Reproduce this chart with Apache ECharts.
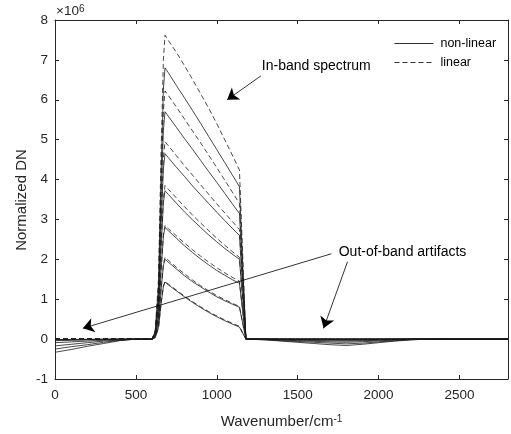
<!DOCTYPE html>
<html>
<head>
<meta charset="utf-8">
<script src="https://cdn.jsdelivr.net/npm/echarts@6/dist/echarts.min.js"></script>
<style>
html,body{margin:0;padding:0;background:#fff;}
#chart{width:511px;height:434px;}
</style>
</head>
<body>
<div id="chart"></div>
<script>
// wavenumber samples (cm-1), split in three parts
var wnLeft = [0, 100, 200, 300, 400, 500];
var wnBand = [600, 620, 640, 655, 670, 680, 700, 750, 800, 850, 900, 950, 1000, 1050, 1100, 1140, 1160, 1180];
var wnRight = [1300, 1400, 1500, 1600, 1700, 1800, 1900, 2000, 2100, 2200, 2300, 2400, 2800];

// in-band spectra, x10^6
var nonLinearBand = [
    [0, 0.2, 1.36, 4.08, 6.26, 6.8, 6.68, 6.36, 6.05, 5.73, 5.41, 5.08, 4.75, 4.42, 4.09, 3.82, 1.91, 0],
    [0, 0.17, 1.14, 3.42, 5.24, 5.7, 5.59, 5.31, 5.03, 4.76, 4.48, 4.20, 3.93, 3.65, 3.37, 3.15, 1.58, 0],
    [0, 0.14, 0.93, 2.79, 4.28, 4.65, 4.55, 4.31, 4.08, 3.84, 3.62, 3.40, 3.18, 2.97, 2.76, 2.6, 1.3, 0],
    [0, 0.11, 0.74, 2.23, 3.42, 3.72, 3.63, 3.41, 3.19, 2.99, 2.80, 2.61, 2.44, 2.27, 2.12, 2.0, 1.0, 0],
    [0, 0.08, 0.56, 1.68, 2.58, 2.8, 2.72, 2.53, 2.34, 2.17, 2.01, 1.86, 1.72, 1.60, 1.48, 1.4, 0.7, 0],
    [0, 0.06, 0.4, 1.2, 1.84, 2.0, 1.93, 1.76, 1.59, 1.44, 1.31, 1.18, 1.06, 0.96, 0.87, 0.8, 0.4, 0],
    [0, 0.04, 0.29, 0.86, 1.32, 1.43, 1.36, 1.21, 1.06, 0.92, 0.79, 0.67, 0.56, 0.46, 0.37, 0.30, 0.15, 0]
];
var linearBand = [
    [0, 0.23, 1.52, 4.57, 7.01, 7.62, 7.49, 7.19, 6.86, 6.51, 6.15, 5.79, 5.40, 4.99, 4.58, 4.24, 2.12, 0],
    [0, 0.19, 1.24, 3.73, 5.72, 6.22, 6.11, 5.82, 5.52, 5.22, 4.92, 4.61, 4.30, 3.98, 3.66, 3.4, 1.7, 0],
    [0, 0.15, 0.99, 2.97, 4.55, 4.95, 4.85, 4.60, 4.35, 4.11, 3.87, 3.63, 3.39, 3.16, 2.93, 2.75, 1.38, 0],
    [0, 0.12, 0.77, 2.31, 3.54, 3.85, 3.76, 3.54, 3.32, 3.11, 2.91, 2.72, 2.53, 2.35, 2.18, 2.05, 1.03, 0],
    [0, 0.09, 0.57, 1.71, 2.62, 2.85, 2.77, 2.59, 2.41, 2.24, 2.08, 1.93, 1.79, 1.66, 1.54, 1.45, 0.73, 0],
    [0, 0.06, 0.41, 1.23, 1.89, 2.05, 1.98, 1.80, 1.64, 1.48, 1.34, 1.21, 1.09, 0.99, 0.89, 0.82, 0.41, 0],
    [0, 0.04, 0.29, 0.87, 1.33, 1.45, 1.38, 1.23, 1.08, 0.94, 0.81, 0.69, 0.58, 0.48, 0.39, 0.32, 0.16, 0]
];

// out-of-band artifacts of the non-linear spectra
var artifactLeft = [
    [-0.33, -0.26, -0.18, -0.11, -0.04, 0],
    [-0.25, -0.19, -0.14, -0.08, -0.03, 0],
    [-0.17, -0.13, -0.09, -0.05, -0.02, 0],
    [-0.09, -0.07, -0.05, -0.03, -0.01, 0],
    [-0.04, -0.03, -0.02, -0.01, 0, 0],
    [-0.02, -0.015, -0.01, -0.005, 0, 0],
    [-0.01, -0.008, -0.005, -0.002, 0, 0]
];
var artifactRight = [
    [-0.02, -0.05, -0.08, -0.11, -0.14, -0.16, -0.13, -0.09, -0.05, -0.02, 0, 0, 0],
    [-0.015, -0.04, -0.06, -0.08, -0.1, -0.12, -0.1, -0.07, -0.04, -0.015, 0, 0, 0],
    [-0.01, -0.025, -0.04, -0.055, -0.07, -0.08, -0.065, -0.045, -0.025, -0.01, 0, 0, 0],
    [-0.005, -0.015, -0.025, -0.035, -0.045, -0.05, -0.04, -0.03, -0.015, -0.005, 0, 0, 0],
    [0, -0.01, -0.015, -0.02, -0.025, -0.03, -0.025, -0.015, -0.01, 0, 0, 0, 0],
    [0, -0.005, -0.008, -0.01, -0.012, -0.015, -0.012, -0.008, -0.005, 0, 0, 0, 0],
    [0, 0, -0.005, -0.005, -0.005, -0.008, -0.005, -0.005, 0, 0, 0, 0, 0]
];

var xTicks = [0, 500, 1000, 1500, 2000, 2500];

var wavenumber = wnLeft.concat(wnBand, wnRight);
var axisColor = '#262626';
var lineColor = '#1a1a1a';
var font = 'Liberation Sans, Arial, sans-serif';

function makeLine(name, vals, dash) {
    return {
        name: name,
        type: 'line',
        symbol: 'none',
        silent: true,
        animation: false,
        lineStyle: { color: lineColor, width: 0.8, type: dash },
        itemStyle: { color: lineColor },
        data: wavenumber.map(function (x, k) { return [x, vals[k]]; })
    };
}

var series = [];
for (var i = 0; i < nonLinearBand.length; i++) {
    series.push(makeLine('non-linear', artifactLeft[i].concat(nonLinearBand[i], artifactRight[i]), 'solid'));
    var zl = wnLeft.map(function () { return 0; });
    var zr = wnRight.map(function () { return 0; });
    series.push(makeLine('linear', zl.concat(linearBand[i], zr), [5, 3]));
}

// arrows and their labels
series.push({
    name: 'annot',
    type: 'line',
    data: [],
    silent: true,
    animation: false,
    markLine: {
        silent: true,
        animation: false,
        symbol: ['none', 'arrow'],
        symbolSize: 11,
        label: { show: false },
        lineStyle: { color: '#000', width: 0.8, type: 'solid' },
        data: [
            [{ coord: [1273, 6.6] }, { coord: [1064, 6.0] }],
            [{ coord: [1709, 2.14] }, { coord: [172, 0.27] }],
            [{ coord: [1808, 1.94] }, { coord: [1660, 0.27] }]
        ]
    },
    markPoint: {
        silent: true,
        animation: false,
        symbol: 'rect',
        symbolSize: 1,
        itemStyle: { color: 'rgba(0,0,0,0)' },
        label: {
            show: true,
            position: 'inside',
            color: '#000',
            fontFamily: font,
            fontSize: 14,
            formatter: function (p) { return p.name; }
        },
        data: [
            { name: 'In-band spectrum', coord: [1615, 6.85] },
            { name: 'Out-of-band artifacts', coord: [2148, 2.19] }
        ]
    }
});

var tickStyle = { inside: true, length: 4, lineStyle: { color: axisColor, width: 1 } };
var lineStyleAxis = { onZero: false, lineStyle: { color: axisColor, width: 1 } };

var option = {
    backgroundColor: '#fff',
    animation: false,
    grid: { left: 55, right: 1, top: 20, bottom: 53 },
    legend: {
        data: ['non-linear', 'linear'],
        orient: 'vertical',
        left: 394,
        top: 37,
        padding: 0,
        itemWidth: 39,
        itemHeight: 10,
        itemGap: 6,
        itemStyle: { opacity: 0 },
        lineStyle: { width: 0.9 },
        textStyle: { color: '#000', fontFamily: font, fontSize: 12.5, padding: [0, 0, 0, 2] },
        selectedMode: false
    },
    graphic: [{
        type: 'text',
        left: 56,
        top: 4,
        style: {
            text: '×10{sup|6}',
            fill: axisColor,
            font: '13.5px ' + font,
            rich: { sup: { fontSize: 10, verticalAlign: 'top', fill: axisColor, fontFamily: font } }
        }
    }, {
        type: 'text',
        x: 22,
        y: 200,
        rotation: Math.PI / 2,
        style: {
            text: 'Normalized DN',
            fill: axisColor,
            font: '15px ' + font,
            align: 'center',
            verticalAlign: 'middle'
        }
    }],
    xAxis: [{
        type: 'value',
        position: 'bottom',
        min: 0,
        max: 2800,
        interval: 500,
        axisLine: lineStyleAxis,
        axisTick: tickStyle,
        splitLine: { show: false },
        axisLabel: {
            color: axisColor,
            fontFamily: font,
            fontSize: 13.5,
            margin: 9,
            formatter: function (v) { return xTicks.indexOf(v) >= 0 ? String(v) : ''; }
        },
        name: 'Wavenumber/cm{sup|-1}',
        nameLocation: 'middle',
        nameGap: 35,
        nameTextStyle: {
            color: axisColor,
            fontFamily: font,
            fontSize: 15,
            rich: { sup: { fontSize: 10, verticalAlign: 'top', color: axisColor, fontFamily: font } }
        }
    }, {
        type: 'value',
        position: 'top',
        min: 0,
        max: 2800,
        interval: 500,
        axisLine: lineStyleAxis,
        axisTick: tickStyle,
        splitLine: { show: false },
        axisLabel: { show: false }
    }],
    yAxis: [{
        type: 'value',
        position: 'left',
        min: -1,
        max: 8,
        interval: 1,
        axisLine: lineStyleAxis,
        axisTick: tickStyle,
        splitLine: { show: false },
        axisLabel: { color: axisColor, fontFamily: font, fontSize: 13.5, margin: 7 }
    }, {
        type: 'value',
        position: 'right',
        min: -1,
        max: 8,
        interval: 1,
        axisLine: lineStyleAxis,
        axisTick: tickStyle,
        splitLine: { show: false },
        axisLabel: { show: false }
    }],
    series: series
};

var myChart = echarts.init(document.getElementById('chart'));
myChart.setOption(option);
</script>
</body>
</html>
